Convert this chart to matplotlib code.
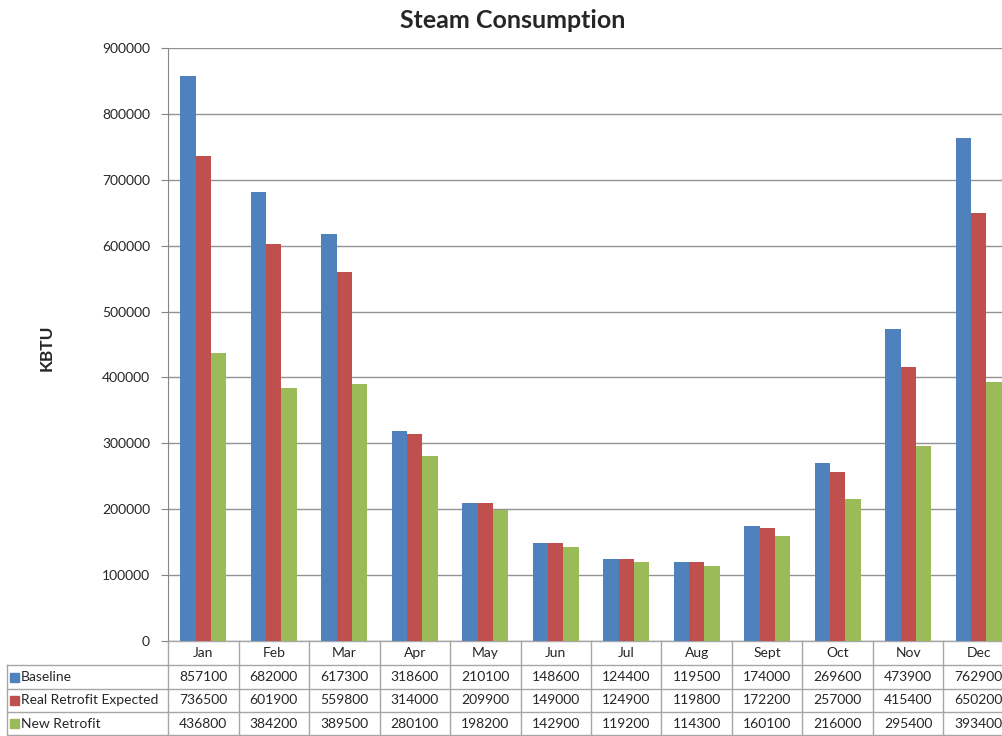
import numpy as np
import matplotlib.pyplot as plt
from matplotlib.transforms import blended_transform_factory
from matplotlib.patches import Rectangle

months = ['Jan', 'Feb', 'Mar', 'Apr', 'May', 'Jun', 'Jul', 'Aug', 'Sept', 'Oct', 'Nov', 'Dec']
baseline = [857100, 682000, 617300, 318600, 210100, 148600, 124400, 119500, 174000, 269600, 473900, 762900]
real_retrofit = [736500, 601900, 559800, 314000, 209900, 149000, 124900, 119800, 172200, 257000, 415400, 650200]
new_retrofit = [436800, 384200, 389500, 280100, 198200, 142900, 119200, 114300, 160100, 216000, 295400, 393400]
series_names = ['Baseline', 'Real Retrofit Expected', 'New Retrofit']
colors = ['#4F81BD', '#C0504D', '#9BBB59']

plt.rcParams['font.family'] = ['Lato', 'DejaVu Sans']
txtcol = '#262626'
linecol = '#A6A6A6'

W, H = 1003, 736
fig = plt.figure(figsize=(W / 100, H / 100), dpi=100)
# plot area runs a little past the right edge of the figure
ax = fig.add_axes([168 / W, 1 - 641 / H, 846 / W, 593 / H])

x = np.arange(len(months))
bw = 0.218
for k, vals in enumerate([baseline, real_retrofit, new_retrofit]):
    ax.bar(x + (k - 1) * bw, vals, width=bw, color=colors[k], zorder=3)

ax.set_xlim(-0.5, len(months) - 0.5)
ax.set_ylim(0, 900000)
ax.set_yticks(np.arange(0, 900001, 100000))
ax.set_yticklabels([str(v) for v in range(0, 900001, 100000)], fontsize=10, color=txtcol)
ax.tick_params(axis='y', length=5, color='#868686', pad=8)
ax.set_xticks([])
ax.grid(axis='y', color='#939393', linewidth=1, zorder=0)
for s in ['top', 'right', 'bottom']:
    ax.spines[s].set_visible(False)
ax.spines['left'].set_color('#868686')

fig.text(513 / W, 1 - 21 / H, 'Steam Consumption', fontsize=18, fontweight='bold',
         ha='center', va='center', color=txtcol)
fig.text(47 / W, 1 - 348 / H, 'KBTU', fontsize=12.5, fontweight='bold', rotation=90,
         ha='center', va='center', color=txtcol)

# data table under the chart
tr = blended_transform_factory(ax.transData, fig.transFigure)
rows_px = [641, 665, 689, 712, 735]
rows = [1 - r / H for r in rows_px]

# horizontal borders
for r in rows:
    ax.plot([-0.5, len(months) - 0.5], [r, r], transform=tr, color=linecol, lw=1, clip_on=False)
for r in rows[1:]:
    fig.add_artist(plt.Line2D([7 / W, 168 / W], [r, r], color=linecol, lw=1))
fig.add_artist(plt.Line2D([7 / W, 7 / W], [rows[1], rows[-1]], color=linecol, lw=1))
fig.add_artist(plt.Line2D([168 / W, 168 / W], [rows[0], rows[-1]], color=linecol, lw=1))
# vertical borders between months
for i in range(1, len(months) + 1):
    ax.plot([i - 0.5, i - 0.5], [rows[0], rows[-1]], transform=tr, color=linecol, lw=1, clip_on=False)

for i, m in enumerate(months):
    ax.text(i, (rows[0] + rows[1]) / 2, m, transform=tr, ha='center', va='center',
            fontsize=10, color=txtcol, clip_on=False)
for k, vals in enumerate([baseline, real_retrofit, new_retrofit]):
    yc = (rows[k + 1] + rows[k + 2]) / 2
    for i, v in enumerate(vals):
        ax.text(i, yc, str(v), transform=tr, ha='center', va='center',
                fontsize=10, color=txtcol, clip_on=False)
    fig.add_artist(Rectangle((10 / W, yc - 4.5 / H), 9 / W, 9 / H, color=colors[k],
                             transform=fig.transFigure))
    fig.text(21 / W, yc, series_names[k], fontsize=10, ha='left', va='center', color=txtcol)

fig.savefig('out.png', dpi=100)
